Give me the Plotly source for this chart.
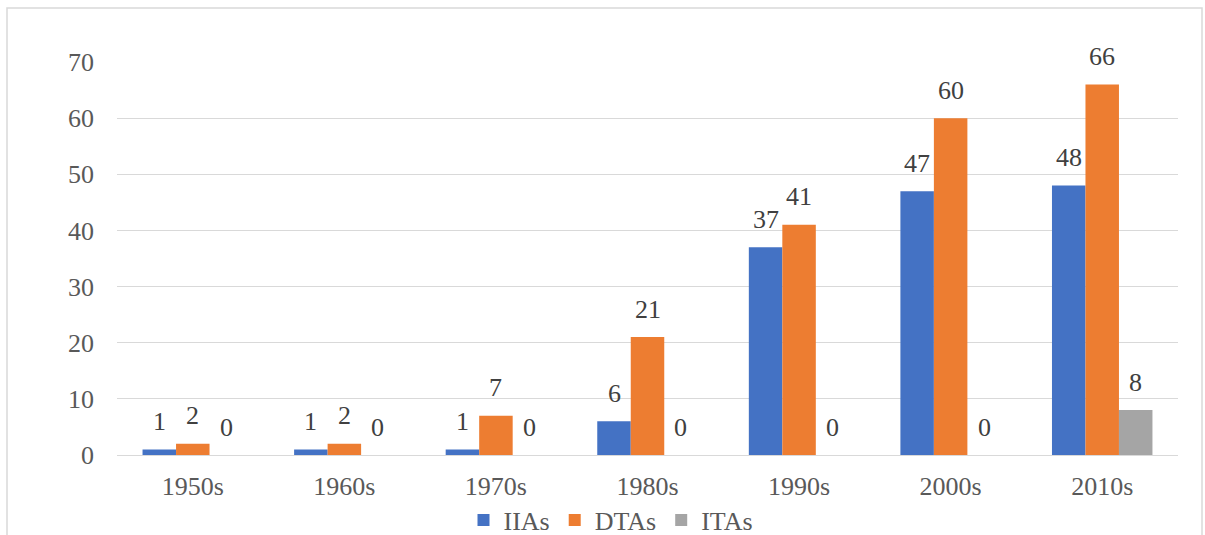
import plotly.graph_objects as go

decades = ["1950s", "1960s", "1970s", "1980s", "1990s", "2000s", "2010s"]
iias = [1, 1, 1, 6, 37, 47, 48]
dtas = [2, 2, 7, 21, 41, 60, 66]
itas = [0, 0, 0, 0, 0, 0, 8]
series_names = ["IIAs", "DTAs", "ITAs"]
series_values = [iias, dtas, itas]
colors = ["#4472C4", "#ED7D31", "#A5A5A5"]

FONT = "Liberation Serif"
FS = 26

W, H = 1205, 535
L, R, T, B = 117, 27, 62, 80
pw, ph = W - L - R, H - T - B
BARGAP = 0.337
bar_px = pw / len(decades) * (1 - BARGAP) / len(series_names)

fig = go.Figure()
for i, (name, vals, col) in enumerate(zip(series_names, series_values, colors)):
    fig.add_trace(go.Bar(
        x=decades, y=vals, name=name,
        marker=dict(color=col, line=dict(width=0)),
    ))
    for d, v in zip(decades, vals):
        fig.add_annotation(
            x=d, y=v, xref="x", yref="y", text=str(v), showarrow=False,
            xshift=(i - 1) * bar_px, yshift=28, yanchor="middle", xanchor="center",
            font=dict(family=FONT, size=FS, color="#404040"),
        )

fig.update_layout(
    width=W, height=H,
    margin=dict(l=L, r=R, t=T, b=B, autoexpand=False),
    barmode="group", bargap=BARGAP, bargroupgap=0,
    plot_bgcolor="white", paper_bgcolor="white",
    font=dict(family=FONT, size=FS, color="#595959"),
    showlegend=True,
    legend=dict(orientation="h", xref="container", yref="container",
                x=611 / W, xanchor="center",
                y=1 - 520 / H, yanchor="middle",
                font=dict(family=FONT, size=FS, color="#595959"),
                itemwidth=30, tracegroupgap=0, bgcolor="rgba(0,0,0,0)"),
)
fig.update_yaxes(range=[0, 70], dtick=10, showgrid=True, gridcolor="#D9D9D9", gridwidth=1,
                 zeroline=True, zerolinecolor="#D9D9D9", zerolinewidth=1,
                 showline=False, ticks="", ticklabelstandoff=22, automargin=False,
                 tickfont=dict(family=FONT, size=FS, color="#595959"))
fig.update_xaxes(showgrid=False, showline=True, linecolor="#D9D9D9", linewidth=1,
                 ticks="", ticklabelstandoff=8, automargin=False,
                 tickfont=dict(family=FONT, size=FS, color="#595959"))

fig.add_shape(type="rect", xref="paper", yref="paper",
              x0=(7 - L) / pw, x1=(1202 - L) / pw,
              y0=(T + ph - 545) / ph, y1=(T + ph - 8) / ph,
              line=dict(color="#D9D9D9", width=1.5), fillcolor="rgba(0,0,0,0)", layer="below")

fig.write_html("out.html", config={"displayModeBar": False},
               post_script="document.body.style.margin='0';document.body.style.overflow='hidden';")
